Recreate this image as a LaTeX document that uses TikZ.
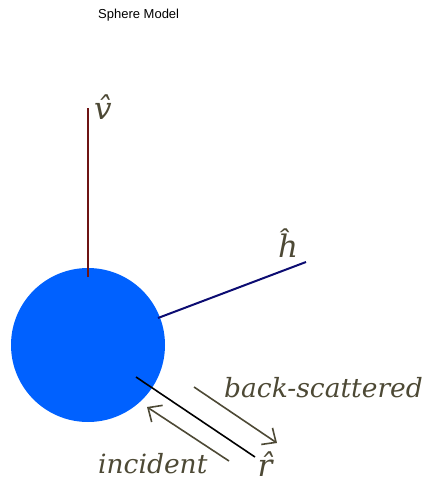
\documentclass[tikz,border=0pt]{standalone}
\usepackage{fontspec}
\setsansfont{Liberation Sans}
\newfontfamily\lblfont{DejaVu Serif}
\usetikzlibrary{arrows.meta}
\definecolor{sphereblue}{HTML}{0061FF}
\definecolor{olivetext}{HTML}{4D4935}
\definecolor{vred}{HTML}{6E1414}
\definecolor{hnavy}{HTML}{0C0C72}
\tikzset{
  lbl/.style={text=olivetext, font=\lblfont\itshape\fontsize{26.5}{28}\selectfont, inner sep=0pt},
  hatlbl/.style={lbl, font=\lblfont\itshape\fontsize{31}{33}\selectfont},
  dirarrow/.style={draw=olivetext, line width=1.6pt, -{Straight Barb[length=11pt,width=20pt,line width=1.6pt]}},
  axis/.style={line width=2pt}
}
\begin{document}
\begin{tikzpicture}[x=1pt,y=-1pt]
\useasboundingbox (0,0) rectangle (433,483);
\node[font=\sffamily\fontsize{13}{15}\selectfont, anchor=west, inner sep=0pt] (title) at (98,15) {Sphere Model};
\node[circle, fill=sphereblue, minimum size=154pt, inner sep=0pt] (sphere) at (88,345) {};
\coordinate (vtop) at (88,108);
\coordinate (vbot) at (88,277);
\draw[axis, vred] (vbot) -- (vtop);
\node[hatlbl] (vlab) at (103,107) {\^{v}};
\coordinate (hin) at (158,318);
\coordinate (hout) at (306,262);
\draw[axis, hnavy] (hin) -- (hout);
\node[hatlbl] (hlab) at (288,243) {\^{h}};
\coordinate (rin) at (136,377);
\coordinate (rout) at (255,457);
\draw[line width=1.6pt, black] (rin) -- (rout);
\node[hatlbl] (rlab) at (265,464) {\^{r}};
\coordinate (bs1) at (194,387);
\coordinate (bs2) at (277,443);
\draw[dirarrow] (bs1) -- (bs2);
\node[lbl, anchor=west] (bslab) at (224,388) {back-scattered};
\coordinate (in1) at (229,461);
\coordinate (in2) at (147,407);
\draw[dirarrow] (in1) -- (in2);
\node[lbl, anchor=west] (inlab) at (98,464) {incident};
\end{tikzpicture}
\end{document}
